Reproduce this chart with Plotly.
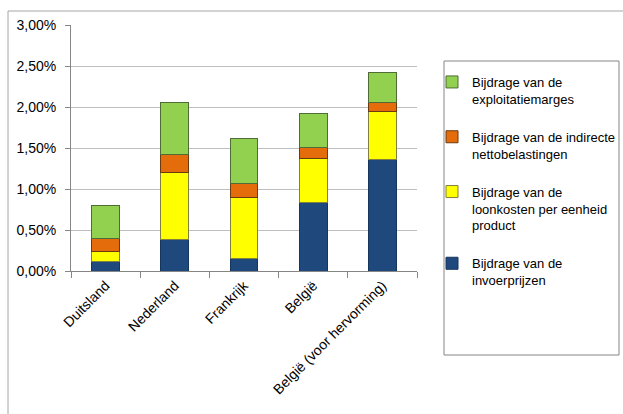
import plotly.graph_objects as go

# Contributions to the GDP deflator growth (percent), per country
countries = ["Duitsland", "Nederland", "Frankrijk", "België", "België (voor hervorming)"]
invoerprijzen = [0.11, 0.38, 0.15, 0.84, 1.36]
loonkosten = [0.13, 0.82, 0.75, 0.53, 0.58]
nettobelastingen = [0.16, 0.22, 0.165, 0.14, 0.12]
exploitatiemarges = [0.40, 0.63, 0.555, 0.41, 0.36]

y_ticks = [0, 0.5, 1.0, 1.5, 2.0, 2.5, 3.0]
y_tick_labels = ["0,00%", "0,50%", "1,00%", "1,50%", "2,00%", "2,50%", "3,00%"]

series = [
    ("Bijdrage van de<br>invoerprijzen", invoerprijzen, "#1F497D", "#17365D"),
    ("Bijdrage van de<br>loonkosten per eenheid<br>product", loonkosten, "#FFFF00", "#7F7F3F"),
    ("Bijdrage van de indirecte<br>nettobelastingen", nettobelastingen, "#E46C0A", "#6B3A10"),
    ("Bijdrage van de<br>exploitatiemarges", exploitatiemarges, "#92D050", "#4F6B38"),
]

FONT = "Liberation Sans, Arial, sans-serif"

fig = go.Figure()
n = len(series)
for i, (name, vals, color, edge) in enumerate(series):
    fig.add_trace(go.Bar(
        x=countries, y=vals, name=name, legendgroup=f"g{i}",
        legendrank=n - i,  # top segment listed first
        marker=dict(color=color, line=dict(color=edge, width=1)),
    ))

W, H = 623, 414
L, R, T, B = 71, 417, 25, 271


def px_x(p):
    return (p - L) / (R - L)


def px_y(p):
    return (B - p) / (B - T)


fig.update_layout(
    width=W, height=H,
    margin=dict(l=L, r=W - R, t=T, b=H - B, pad=0, autoexpand=False),
    barmode="stack", bargap=0.6,
    paper_bgcolor="white", plot_bgcolor="white",
    font=dict(family=FONT, size=14, color="#000000"),
    showlegend=True,
    legend=dict(
        x=px_x(432), y=px_y(67), xanchor="left", yanchor="top",
        traceorder="grouped", tracegroupgap=18, valign="top",
        font=dict(family=FONT, size=13, color="#000000"),
        bgcolor="rgba(0,0,0,0)", borderwidth=0,
        itemwidth=30,
    ),
    xaxis=dict(
        tickangle=-45, showgrid=False, showline=True, linecolor="#868686", linewidth=1,
        ticks="outside", tickson="boundaries", ticklen=6, tickcolor="#868686",
        tickfont=dict(family=FONT, size=14),
    ),
    yaxis=dict(
        range=[0, 3.0], tickvals=y_ticks, ticktext=y_tick_labels,
        showgrid=True, gridcolor="#BFBFBF", gridwidth=1,
        showline=True, linecolor="#868686", linewidth=1,
        ticks="outside", ticklen=5, tickcolor="#868686", ticklabelstandoff=6,
        tickfont=dict(family=FONT, size=14), zeroline=False,
    ),
    shapes=[
        # chart frame (top and left edges inside the page)
        dict(type="line", xref="paper", yref="paper",
             x0=px_x(8), x1=px_x(640), y0=px_y(11), y1=px_y(11),
             line=dict(color="#A6A6A6", width=1)),
        dict(type="line", xref="paper", yref="paper",
             x0=px_x(8), x1=px_x(8), y0=px_y(11), y1=px_y(430),
             line=dict(color="#A6A6A6", width=1)),
        # legend frame
        dict(type="rect", xref="paper", yref="paper",
             x0=px_x(444), x1=px_x(619), y0=px_y(61), y1=px_y(355),
             line=dict(color="#868686", width=1), fillcolor="rgba(0,0,0,0)"),
    ],
)

fig.write_html("out.html")
